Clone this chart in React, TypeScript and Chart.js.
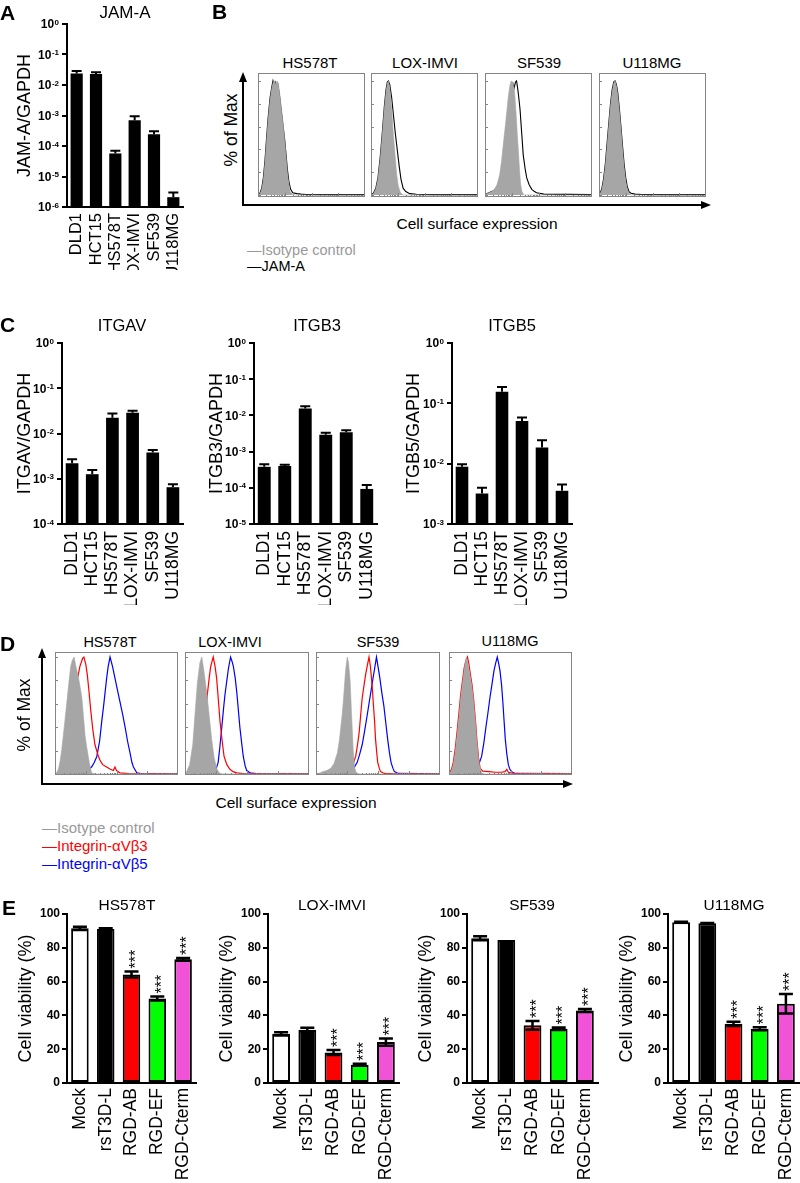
import React, { useEffect, useRef } from 'react';
import { Chart, registerables } from 'chart.js';

Chart.register(...registerables);

const FONT = '"Liberation Sans", Arial, Helvetica, sans-serif';
Chart.defaults.font.family = FONT;
Chart.defaults.color = '#000';

// ---------- Panel A / C : mRNA relative to GAPDH (log scale) ----------
const CELL_LINES = ['DLD1', 'HCT15', 'HS578T', 'LOX-IMVI', 'SF539', 'U118MG'];
const JAMA_VALUES = [0.024, 0.023, 5.7e-5, 7.0e-4, 2.45e-4, 2.1e-6];
const JAMA_ERR = [0.005, 0.003, 1.3e-5, 2.5e-4, 0.6e-4, 0.9e-6];
const ITGAV_VALUES = [2.2e-3, 1.26e-3, 0.0224, 0.0287, 3.8e-3, 6.5e-4];
const ITGAV_ERR = [0.5e-3, 0.3e-3, 0.0052, 0.003, 0.5e-3, 1.1e-4];
const ITGB3_VALUES = [3.8e-4, 4.0e-4, 0.0155, 2.9e-3, 3.4e-3, 9.3e-5];
const ITGB3_ERR = [0.7e-4, 0.35e-4, 0.0024, 0.4e-3, 0.5e-3, 2.7e-5];
const ITGB5_VALUES = [8.9e-3, 3.2e-3, 0.155, 0.051, 0.0186, 3.55e-3];
const ITGB5_ERR = [0.9e-3, 0.8e-3, 0.032, 0.007, 0.0059, 0.95e-3];
const JAMA_TICKS = [1, 1e-1, 1e-2, 1e-3, 1e-4, 1e-5, 1e-6];
const ITGAV_TICKS = [1, 1e-1, 1e-2, 1e-3, 1e-4];
const ITGB3_TICKS = [1, 1e-1, 1e-2, 1e-3, 1e-4, 1e-5];
const ITGB5_TICKS = [1, 1e-1, 1e-2, 1e-3];

// ---------- Panel E : cell viability ----------
const TREATMENTS = ['Mock', 'rsT3D-L', 'RGD-AB', 'RGD-EF', 'RGD-Cterm'];
const TREATMENT_COLORS = ['#ffffff', '#000000', '#ff0000', '#00ff00', '#f252d7'];
const VIAB_TICKS = [0, 20, 40, 60, 80, 100];
const HS578T_VIAB = [91.5, 91.1, 64.2, 50.0, 73.2];
const HS578T_VIAB_ERR = [0.9, 0.4, 1.8, 1.2, 0.8];
const LOX_VIAB = [29.1, 31.5, 18.1, 10.8, 24.2];
const LOX_VIAB_ERR = [1.0, 1.2, 1.5, 0.6, 2.2];
const SF539_VIAB = [85.6, 84.6, 34.1, 32.1, 42.9];
const SF539_VIAB_ERR = [1.2, 0, 2.6, 0.8, 0.9];
const U118MG_VIAB = [95.1, 94.5, 35.0, 32.1, 46.9];
const U118MG_VIAB_ERR = [0.3, 0.2, 1.2, 0.9, 5.8];
const SIGNIF = ['', '', '***', '***', '***'];

// ---------- Flow histograms (x: log10 fluorescence in decades, y: % of max) ----------
const HIST_Y_TICKS = [0, 20, 40, 60, 80, 100];
const HIST_DECADES = [0, 1, 2, 3];
const HIST_MINOR = [1, 2, 3, 4, 5, 6, 7, 8, 9];
type Pt = [number, number];

// Panel B: isotype (filled grey) and JAM-A (black line)
const B_HS578T_ISO: Pt[] = [[0,0],[0.07,1],[0.14,5],[0.2,13],[0.26,28],[0.32,48],[0.38,66],[0.45,83],[0.51,93],[0.57,99],[0.62,100],[0.66,97],[0.71,100],[0.76,98],[0.82,87],[0.88,74],[0.95,60],[1.01,45],[1.06,31],[1.1,19],[1.15,10],[1.2,3],[1.3,0.5],[1.4,0],[4,0]];
const B_HS578T_JAMA: Pt[] = [[0,0.3],[0.07,1.5],[0.14,6],[0.2,15],[0.26,30],[0.32,50],[0.38,68],[0.45,85],[0.51,94],[0.56,100],[0.6,96],[0.64,99],[0.69,95],[0.74,97],[0.8,88],[0.86,76],[0.93,62],[1.0,48],[1.05,35],[1.1,22],[1.16,11],[1.22,5],[1.3,2],[1.45,1.2],[1.6,0.8],[1.8,0.5],[2.2,0.3],[4,0.3]];
const B_LOX_ISO: Pt[] = [[0,0],[0.09,1],[0.18,5],[0.26,14],[0.34,30],[0.42,52],[0.5,76],[0.56,90],[0.61,98],[0.65,100],[0.7,94],[0.77,76],[0.83,55],[0.9,35],[0.96,18],[1.02,8],[1.1,2],[1.2,0],[4,0]];
const B_LOX_JAMA: Pt[] = [[0,0.3],[0.09,1.5],[0.18,6],[0.26,15],[0.34,32],[0.42,54],[0.5,78],[0.56,92],[0.61,99],[0.65,100],[0.7,97],[0.77,86],[0.84,70],[0.91,54],[0.98,40],[1.05,26],[1.12,14],[1.2,6],[1.3,3],[1.45,1.2],[1.7,0.6],[2.2,0.3],[4,0.3]];
const B_SF539_ISO: Pt[] = [[0,0],[0.06,1],[0.15,2],[0.25,3],[0.35,5],[0.45,9],[0.55,18],[0.62,30],[0.7,48],[0.77,63],[0.81,72],[0.87,86],[0.93,96],[0.98,100],[1.04,99],[1.1,92],[1.16,72],[1.21,52],[1.25,38],[1.29,22],[1.33,10],[1.38,3],[1.45,0],[4,0]];
const B_SF539_JAMA: Pt[] = [[0,0.3],[0.06,1],[0.15,2],[0.25,3],[0.35,4],[0.45,7],[0.55,13],[0.62,22],[0.69,34],[0.75,45],[0.81,57],[0.87,70],[0.93,84],[0.99,95],[1.04,98],[1.09,94],[1.14,99],[1.18,100],[1.23,92],[1.27,84],[1.31,75],[1.37,55],[1.43,35],[1.5,23],[1.56,15],[1.65,9],[1.75,5],[1.85,3],[1.93,2],[2.2,0.8],[4,0.3]];
const B_U118MG_ISO: Pt[] = [[0,0],[0.04,1],[0.1,4],[0.17,12],[0.24,26],[0.3,42],[0.37,62],[0.43,78],[0.49,90],[0.55,98],[0.6,100],[0.65,96],[0.7,88],[0.76,74],[0.82,58],[0.88,40],[0.94,24],[1.0,12],[1.06,5],[1.12,1.5],[1.2,0],[4,0]];
const B_U118MG_JAMA: Pt[] = [[0,0.3],[0.04,1.5],[0.1,5],[0.17,14],[0.24,28],[0.3,45],[0.37,64],[0.43,80],[0.49,92],[0.55,99],[0.6,100],[0.65,97],[0.7,90],[0.76,76],[0.82,60],[0.88,43],[0.94,27],[1.0,15],[1.06,7],[1.12,3],[1.2,1.5],[1.35,0.8],[1.6,0.5],[2.2,0.3],[4,0.3]];

// Panel D: isotype (grey), integrin aVb3 (red), integrin aVb5 (blue)
const D_HS578T_ISO: Pt[] = [[0,0],[0.05,1],[0.11,4],[0.16,10],[0.22,21],[0.3,40],[0.38,60],[0.45,78],[0.51,92],[0.56,97],[0.62,100],[0.68,92],[0.76,83],[0.82,74],[0.87,66],[0.93,48],[0.98,32],[1.05,20],[1.12,9],[1.19,1],[1.3,0],[4,0]];
const D_HS578T_B3: Pt[] = [[0,0],[0.2,0.5],[0.27,2],[0.35,12],[0.43,30],[0.55,52],[0.65,70],[0.75,84],[0.81,92],[0.9,99],[0.94,100],[1.0,94],[1.05,85],[1.1,72],[1.16,55],[1.23,38],[1.3,25],[1.4,16],[1.46,12],[1.55,8],[1.68,6],[1.8,4],[1.9,3],[1.95,6],[2.0,3],[2.11,1],[2.4,0.3],[4,0.2]];
const D_HS578T_B5: Pt[] = [[0,0],[0.8,0.3],[0.92,1],[1.05,3],[1.19,6],[1.28,10],[1.36,15],[1.45,28],[1.52,45],[1.58,58],[1.63,70],[1.68,82],[1.73,92],[1.79,100],[1.87,92],[1.95,82],[2.03,72],[2.11,62],[2.2,51],[2.28,40],[2.36,28],[2.44,18],[2.5,10],[2.55,6],[2.66,1],[2.8,0.3],[4,0.2]];
const D_LOX_ISO: Pt[] = [[0,0],[0.05,2],[0.15,8],[0.25,25],[0.32,50],[0.4,78],[0.48,95],[0.54,100],[0.6,90],[0.7,70],[0.78,50],[0.86,30],[0.94,14],[1.02,5],[1.1,1],[1.2,0],[4,0]];
const D_LOX_B3: Pt[] = [[0,0],[0.35,0.5],[0.43,2],[0.52,12],[0.59,30],[0.66,50],[0.72,68],[0.78,82],[0.83,92],[0.91,100],[0.97,92],[1.02,82],[1.08,62],[1.13,45],[1.2,28],[1.26,15],[1.35,8],[1.45,4],[1.55,2],[1.67,1],[1.9,0.3],[4,0.2]];
const D_LOX_B5: Pt[] = [[0,0],[0.8,0.3],[0.91,1],[1.0,4],[1.07,10],[1.12,22],[1.18,38],[1.24,55],[1.29,68],[1.35,80],[1.4,90],[1.47,100],[1.52,96],[1.56,92],[1.62,82],[1.67,70],[1.72,55],[1.77,40],[1.83,26],[1.88,15],[1.94,7],[1.99,3],[2.1,1],[2.3,0.3],[4,0.2]];
const D_SF539_ISO: Pt[] = [[0,0],[0.1,0.5],[0.21,2],[0.35,3],[0.48,5],[0.58,9],[0.69,18],[0.75,28],[0.8,40],[0.85,52],[0.89,65],[0.93,80],[0.96,90],[1.01,100],[1.05,95],[1.1,80],[1.14,55],[1.17,38],[1.2,20],[1.25,5],[1.3,1],[1.4,0],[4,0]];
const D_SF539_B3: Pt[] = [[0,0],[0.9,0.3],[1.05,2],[1.12,5],[1.2,9],[1.28,15],[1.34,25],[1.39,35],[1.44,50],[1.49,65],[1.55,76],[1.6,85],[1.65,92],[1.71,100],[1.75,93],[1.78,85],[1.82,72],[1.85,60],[1.89,45],[1.92,30],[1.96,18],[1.99,10],[2.04,5],[2.08,2],[2.2,0.5],[2.5,0.2],[4,0.2]];
const D_SF539_B5: Pt[] = [[0,0],[0.9,0.3],[1.12,2],[1.22,5],[1.33,10],[1.41,17],[1.49,25],[1.57,37],[1.65,50],[1.72,62],[1.78,72],[1.84,82],[1.89,90],[1.95,100],[2.0,92],[2.06,82],[2.12,70],[2.19,58],[2.25,44],[2.31,30],[2.37,18],[2.42,10],[2.48,5],[2.53,2],[2.65,0.5],[4,0.2]];
const D_U118MG_ISO: Pt[] = [[0,0],[0.03,1],[0.08,3],[0.14,8],[0.2,18],[0.27,35],[0.33,50],[0.38,65],[0.44,78],[0.49,88],[0.53,96],[0.57,100],[0.62,94],[0.68,85],[0.74,76],[0.79,65],[0.85,48],[0.9,30],[0.95,16],[0.99,8],[1.06,1],[1.15,0],[4,0]];
const D_U118MG_B3: Pt[] = [[0,0],[0.03,1.5],[0.08,4],[0.14,10],[0.2,21],[0.27,38],[0.33,54],[0.38,68],[0.44,80],[0.49,90],[0.55,97],[0.6,100],[0.64,95],[0.69,86],[0.75,76],[0.8,64],[0.86,46],[0.91,28],[0.96,14],[1.01,5],[1.1,2.5],[1.3,2],[1.5,1.5],[1.7,1.5],[1.82,2],[1.88,4],[1.93,1.5],[2.1,0.5],[4,0.3]];
const D_U118MG_B5: Pt[] = [[0,0],[0.6,0.3],[0.74,1],[0.82,2.5],[0.9,5],[0.98,9],[1.06,15],[1.13,26],[1.2,40],[1.27,53],[1.33,65],[1.4,77],[1.46,88],[1.52,95],[1.57,100],[1.62,94],[1.66,88],[1.71,76],[1.75,62],[1.79,46],[1.83,30],[1.88,17],[1.93,8],[1.98,4],[2.04,2],[2.15,0.5],[4,0.3]];

const ISO_FILL = '#a6a6a6';
const FRAME = '#858585';

// ---------- chart builders ----------
function makeBarConfig(o: any) {
  const errPlugin = {
    id: 'errbars',
    afterDatasetsDraw(chart: any) {
      const ctx = chart.ctx;
      const ys = chart.scales.y;
      const meta = chart.getDatasetMeta(0);
      ctx.save();
      ctx.strokeStyle = '#000';
      ctx.lineWidth = o.errWidth;
      meta.data.forEach((bar: any, i: number) => {
        const v = o.values[i];
        const e = o.errs[i];
        const x = bar.x;
        const yTop = ys.getPixelForValue(v + e);
        if (e) {
          const yBot = o.log ? ys.getPixelForValue(v) : ys.getPixelForValue(v - e);
          ctx.beginPath();
          ctx.moveTo(x, yBot);
          ctx.lineTo(x, yTop);
          ctx.moveTo(x - o.capW / 2, yTop);
          ctx.lineTo(x + o.capW / 2, yTop);
          if (!o.log) {
            ctx.moveTo(x - o.capW / 2, yBot);
            ctx.lineTo(x + o.capW / 2, yBot);
          }
          ctx.stroke();
        }
        if (o.stars && o.stars[i]) {
          const fs = 16;
          ctx.save();
          ctx.fillStyle = '#000';
          ctx.font = `${fs}px ${FONT}`;
          ctx.translate(x, yTop - 3);
          ctx.rotate(-Math.PI / 2);
          ctx.textAlign = 'left';
          ctx.textBaseline = 'alphabetic';
          ctx.fillText(o.stars[i], 0, 0.58 * fs);
          ctx.restore();
        }
      });
      ctx.restore();
    },
  };
  const logLabelPlugin = {
    id: 'loglabels',
    afterDraw(chart: any) {
      if (!o.log) return;
      const ys = chart.scales.y;
      const ctx = chart.ctx;
      const right = ys.right - 8;
      ctx.save();
      ctx.fillStyle = '#000';
      ys.ticks.forEach((t: any) => {
        const py = ys.getPixelForValue(t.value);
        const ex = String(Math.round(Math.log10(t.value)));
        ctx.font = `bold 8px ${FONT}`;
        const ew = ctx.measureText(ex).width;
        ctx.textAlign = 'left';
        ctx.textBaseline = 'alphabetic';
        ctx.fillText(ex, right - ew, py + 0.5);
        ctx.font = `bold 12px ${FONT}`;
        ctx.textAlign = 'right';
        ctx.textBaseline = 'middle';
        ctx.fillText('10', right - ew - 0.5, py + 1);
      });
      ctx.restore();
    },
  };
  const yScale: any = o.log
    ? {
        type: 'logarithmic',
        min: o.min,
        max: o.max,
        afterBuildTicks: (s: any) => {
          s.ticks = o.ticks.map((v: number) => ({ value: v }));
        },
        ticks: { display: false },
      }
    : {
        type: 'linear',
        min: o.min,
        max: o.max,
        afterBuildTicks: (s: any) => {
          s.ticks = o.ticks.map((v: number) => ({ value: v }));
        },
        ticks: { display: true, font: { size: 12, weight: 'bold' }, padding: 2, color: '#000' },
      };
  Object.assign(yScale, {
    grid: { display: true, drawOnChartArea: false, drawTicks: true, tickLength: 5, lineWidth: 2, color: '#000' },
    border: { display: true, width: 2, color: '#000' },
    title: {
      display: true,
      text: o.yTitle,
      font: { size: 18, lineHeight: 1.2 },
      color: '#000',
      padding: { top: o.titleX - 10.8, bottom: 0 },
    },
    afterFit: (s: any) => {
      s.width = o.yWidth;
      s.paddingTop = 0;
      s.paddingBottom = 0;
    },
  });
  return {
    type: 'bar',
    data: {
      labels: o.labels,
      datasets: [
        {
          data: o.values,
          backgroundColor: o.colors,
          borderColor: '#000',
          borderWidth: o.borderWidth,
          borderSkipped: false,
          barPercentage: o.barPct,
          categoryPercentage: 1,
        },
      ],
    },
    options: {
      responsive: false,
      animation: false,
      events: [],
      layout: { padding: { left: 0, top: o.padTop, right: o.padRight, bottom: 0 } },
      plugins: { legend: { display: false }, tooltip: { enabled: false }, title: { display: false } },
      scales: {
        x: {
          type: 'category',
          offset: true,
          grid: { display: false, drawTicks: false },
          border: { display: true, width: 2, color: '#000' },
          ticks: {
            autoSkip: false,
            maxRotation: 90,
            minRotation: 90,
            padding: o.labelPad,
            font: { size: o.labelSize },
            color: '#000',
          },
          afterFit: (s: any) => {
            s.height = o.xHeight;
            s.paddingLeft = 0;
            s.paddingRight = 0;
          },
        },
        y: yScale,
      },
    },
    plugins: [errPlugin, logLabelPlugin],
  };
}

function makeHistConfig(curves: any[], yMin: number, yMax: number) {
  const framePlugin = {
    id: 'histframe',
    afterDraw(chart: any) {
      const { ctx, chartArea: a, scales } = chart;
      const xs = scales.x;
      const ys = scales.y;
      ctx.save();
      ctx.strokeStyle = FRAME;
      ctx.lineWidth = 1;
      ctx.strokeRect(a.left + 0.5, a.top + 0.5, a.right - a.left - 1, a.bottom - a.top - 1);
      ctx.beginPath();
      HIST_Y_TICKS.forEach((v) => {
        const py = Math.round(ys.getPixelForValue(v)) + 0.5;
        ctx.moveTo(a.left, py);
        ctx.lineTo(a.left + 3, py);
      });
      HIST_DECADES.forEach((d) => {
        HIST_MINOR.forEach((k) => {
          const px = Math.round(xs.getPixelForValue(d + Math.log10(k))) + 0.5;
          const len = k === 1 ? 4 : 2;
          ctx.moveTo(px, a.bottom);
          ctx.lineTo(px, a.bottom - len);
        });
      });
      ctx.stroke();
      ctx.restore();
    },
  };
  return {
    type: 'line',
    data: {
      datasets: curves.map((c) => ({
        data: c.data.map((p: Pt) => ({ x: p[0], y: p[1] })),
        borderColor: c.color,
        backgroundColor: c.color,
        borderWidth: c.fill ? 0.6 : c.width,
        fill: c.fill ? 'origin' : false,
        pointRadius: 0,
        tension: 0,
      })),
    },
    options: {
      responsive: false,
      animation: false,
      events: [],
      layout: { padding: 0 },
      plugins: { legend: { display: false }, tooltip: { enabled: false } },
      scales: {
        x: { type: 'linear', min: 0, max: 4, display: false },
        y: { type: 'linear', min: yMin, max: yMax, display: false },
      },
    },
    plugins: [framePlugin],
  };
}

function ChartCanvas({ make, left, top, width, height }: any) {
  const ref = useRef<HTMLCanvasElement>(null);
  useEffect(() => {
    const chart = new Chart(ref.current as HTMLCanvasElement, make());
    return () => chart.destroy();
  }, []);
  return (
    <div style={{ position: 'absolute', left, top, width, height }}>
      <canvas ref={ref} width={width} height={height} style={{ display: 'block', width, height }} />
    </div>
  );
}

function Txt({ x, y, size, bold, color, rotate, anchor, children }: any) {
  const tx = anchor === 'left' ? '0' : '-50%';
  return (
    <div
      style={{
        position: 'absolute',
        left: x,
        top: y,
        fontSize: size,
        fontWeight: bold ? 'bold' : 'normal',
        color: color || '#000',
        lineHeight: 1,
        whiteSpace: 'nowrap',
        transform: `translate(${tx}, -50%)${rotate ? ' rotate(-90deg)' : ''}`,
      }}
    >
      {children}
    </div>
  );
}

function Letter({ x, y, children }: any) {
  return (
    <div style={{ position: 'absolute', left: x, top: y, fontSize: 21, fontWeight: 'bold', lineHeight: 1 }}>
      {children}
    </div>
  );
}

const logBar = (values: number[], errs: number[], ticks: number[], yTitle: string, lay: any) => () =>
  makeBarConfig({
    log: true,
    labels: CELL_LINES,
    values,
    errs,
    ticks,
    min: ticks[ticks.length - 1],
    max: ticks[0],
    yTitle,
    colors: '#000',
    borderWidth: 0,
    barPct: 0.63,
    capW: 10,
    errWidth: 2,
    ...lay,
  });

const viabBar = (values: number[], errs: number[], lay: any) => () =>
  makeBarConfig({
    log: false,
    labels: TREATMENTS,
    values,
    errs,
    ticks: VIAB_TICKS,
    min: 0,
    max: 100,
    yTitle: 'Cell viability (%)',
    colors: TREATMENT_COLORS,
    borderWidth: 2,
    barPct: 0.68,
    capW: 14,
    errWidth: 2.5,
    stars: SIGNIF,
    labelSize: 17.5,
    labelPad: 5,
    padTop: 21,
    xHeight: 100,
    ...lay,
  });

const histB = (iso: Pt[], line: Pt[]) => () =>
  makeHistConfig(
    [
      { data: iso, color: ISO_FILL, fill: true },
      { data: line, color: '#000', width: 1.1 },
    ],
    -1.75,
    107
  );

const histD = (iso: Pt[], b3: Pt[], b5: Pt[]) => () =>
  makeHistConfig(
    [
      { data: iso, color: ISO_FILL, fill: true },
      { data: b3, color: '#ff0000', width: 1.2 },
      { data: b5, color: '#0000ff', width: 1.2 },
    ],
    -0.85,
    104.3
  );

export default function App() {
  return (
    <div
      style={{
        position: 'absolute',
        left: 0,
        top: 0,
        width: 800,
        height: 1183,
        background: '#fff',
        overflow: 'hidden',
        fontFamily: FONT,
        color: '#000',
      }}
    >
      <svg width={800} height={1183} style={{ position: 'absolute', left: 0, top: 0 }}>
        <line x1={243} y1={206} x2={243} y2={81} stroke="#000" strokeWidth={2} />
        <polygon points="243,72 239,82 247,82" fill="#000" />
        <line x1={242} y1={205} x2={702} y2={205} stroke="#000" strokeWidth={2} />
        <polygon points="711,205 701,201 701,209" fill="#000" />
        <line x1={42} y1={785} x2={42} y2={657} stroke="#000" strokeWidth={2} />
        <polygon points="42,648 38,658 46,658" fill="#000" />
        <line x1={41} y1={784} x2={564} y2={784} stroke="#000" strokeWidth={2} />
        <polygon points="573,784 563,780 563,788" fill="#000" />
      </svg>

      {/* Panel A */}
      <ChartCanvas
        left={0}
        top={0}
        width={200}
        height={270}
        make={logBar(JAMA_VALUES, JAMA_ERR, JAMA_TICKS, 'JAM-A/GAPDH', {
          yWidth: 67, padTop: 24, padRight: 17, xHeight: 63, titleX: 25, labelSize: 16.5, labelPad: 6,
        })}
      />
      {/* Panel C */}
      <ChartCanvas
        left={0}
        top={320}
        width={200}
        height={285}
        make={logBar(ITGAV_VALUES, ITGAV_ERR, ITGAV_TICKS, 'ITGAV/GAPDH', {
          yWidth: 62, padTop: 23, padRight: 17, xHeight: 81, titleX: 25, labelSize: 17.5, labelPad: 7,
        })}
      />
      <ChartCanvas
        left={200}
        top={320}
        width={200}
        height={285}
        make={logBar(ITGB3_VALUES, ITGB3_ERR, ITGB3_TICKS, 'ITGB3/GAPDH', {
          yWidth: 54, padTop: 23, padRight: 23, xHeight: 81, titleX: 16.7, labelSize: 17.5, labelPad: 7,
        })}
      />
      <ChartCanvas
        left={400}
        top={320}
        width={190}
        height={285}
        make={logBar(ITGB5_VALUES, ITGB5_ERR, ITGB5_TICKS, 'ITGB5/GAPDH', {
          yWidth: 52, padTop: 23, padRight: 18, xHeight: 81, titleX: 14, labelSize: 17.5, labelPad: 7,
        })}
      />
      {/* Panel E */}
      <ChartCanvas left={0} top={893} width={200} height={290}
        make={viabBar(HS578T_VIAB, HS578T_VIAB_ERR, { yWidth: 67, padRight: 4, titleX: 25.8 })} />
      <ChartCanvas left={200} top={893} width={200} height={290}
        make={viabBar(LOX_VIAB, LOX_VIAB_ERR, { yWidth: 68, padRight: 1, titleX: 26.7 })} />
      <ChartCanvas left={400} top={893} width={200} height={290}
        make={viabBar(SF539_VIAB, SF539_VIAB_ERR, { yWidth: 67, padRight: 2, titleX: 25.8 })} />
      <ChartCanvas left={600} top={893} width={200} height={290}
        make={viabBar(U118MG_VIAB, U118MG_VIAB_ERR, { yWidth: 68, padRight: 1, titleX: 26.7 })} />

      {/* Panel B histograms */}
      <ChartCanvas left={258} top={73} width={107} height={124} make={histB(B_HS578T_ISO, B_HS578T_JAMA)} />
      <ChartCanvas left={371} top={73} width={107} height={124} make={histB(B_LOX_ISO, B_LOX_JAMA)} />
      <ChartCanvas left={485} top={73} width={107} height={124} make={histB(B_SF539_ISO, B_SF539_JAMA)} />
      <ChartCanvas left={599} top={73} width={107} height={124} make={histB(B_U118MG_ISO, B_U118MG_JAMA)} />
      {/* Panel D histograms */}
      <ChartCanvas left={55} top={652} width={123} height={123} make={histD(D_HS578T_ISO, D_HS578T_B3, D_HS578T_B5)} />
      <ChartCanvas left={185} top={652} width={124} height={123} make={histD(D_LOX_ISO, D_LOX_B3, D_LOX_B5)} />
      <ChartCanvas left={316} top={652} width={124} height={123} make={histD(D_SF539_ISO, D_SF539_B3, D_SF539_B5)} />
      <ChartCanvas left={449} top={652} width={123} height={123} make={histD(D_U118MG_ISO, D_U118MG_B3, D_U118MG_B5)} />

      {/* Letters */}
      <Letter x={0} y={2}>A</Letter>
      <Letter x={212} y={0.5}>B</Letter>
      <Letter x={0} y={314}>C</Letter>
      <Letter x={0} y={633}>D</Letter>
      <Letter x={2} y={896.5}>E</Letter>

      {/* Titles */}
      <Txt x={125} y={12} size={17}>JAM-A</Txt>
      <Txt x={310} y={62} size={15}>HS578T</Txt>
      <Txt x={425} y={62} size={15}>LOX-IMVI</Txt>
      <Txt x={539} y={62} size={15}>SF539</Txt>
      <Txt x={652} y={62} size={15}>U118MG</Txt>
      <Txt x={122} y={325} size={16.5}>ITGAV</Txt>
      <Txt x={317} y={325} size={16.5}>ITGB3</Txt>
      <Txt x={512} y={325} size={16.5}>ITGB5</Txt>
      <Txt x={110} y={642} size={14.5}>HS578T</Txt>
      <Txt x={230} y={642} size={14.5}>LOX-IMVI</Txt>
      <Txt x={378} y={642} size={14.5}>SF539</Txt>
      <Txt x={510} y={641} size={14.5}>U118MG</Txt>
      <Txt x={127} y={904.5} size={15.5}>HS578T</Txt>
      <Txt x={332} y={904.5} size={15.5}>LOX-IMVI</Txt>
      <Txt x={532} y={904.5} size={15.5}>SF539</Txt>
      <Txt x={734} y={904.5} size={15.5}>U118MG</Txt>

      {/* Flow axis labels */}
      <Txt x={232} y={130} size={17.5} rotate>% of Max</Txt>
      <Txt x={477} y={224} size={15.5}>Cell surface expression</Txt>
      <Txt x={25} y={715} size={17.5} rotate>% of Max</Txt>
      <Txt x={296} y={803} size={15.5}>Cell surface expression</Txt>

      {/* Legends */}
      <Txt x={247} y={250} size={14.5} anchor="left" color="#999999">—Isotype control</Txt>
      <Txt x={247} y={266} size={14.5} anchor="left">—JAM-A</Txt>
      <Txt x={42} y={827} size={15} anchor="left" color="#999999">—Isotype control</Txt>
      <Txt x={42} y={845} size={15} anchor="left" color="#ff0000">—Integrin-αVβ3</Txt>
      <Txt x={42} y={863} size={15} anchor="left" color="#0000ff">—Integrin-αVβ5</Txt>
    </div>
  );
}
